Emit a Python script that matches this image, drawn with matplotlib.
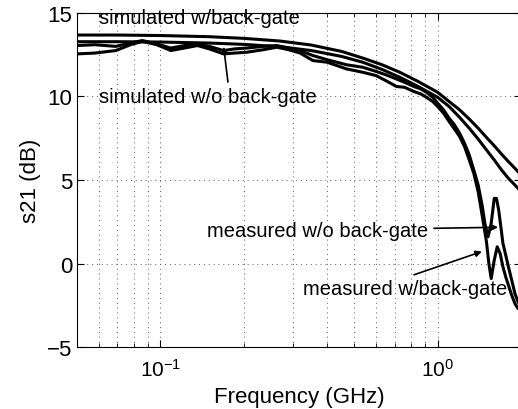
import matplotlib as mpl
mpl.use('Agg')
import matplotlib.pyplot as plt
import matplotlib.ticker as mtick

plt.rcParams['font.family'] = ['Liberation Sans', 'DejaVu Sans']
plt.rcParams['mathtext.fontset'] = 'custom'
plt.rcParams['mathtext.rm'] = 'Liberation Sans'

# simulated curves (GHz, dB)
f_sim_bg = [0.05, 0.07, 0.1, 0.15, 0.2, 0.27, 0.35, 0.45, 0.537, 0.63, 0.73, 0.85,
            1.0, 1.1, 1.2, 1.3, 1.4, 1.5, 1.6, 1.7, 1.8, 1.9, 2.0]
s21_sim_bg = [13.68, 13.68, 13.65, 13.58, 13.48, 13.32, 13.08, 12.7, 12.3, 11.9, 11.45, 10.9,
              10.25, 9.7, 9.2, 8.65, 8.1, 7.55, 7.05, 6.55, 6.1, 5.7, 5.3]

f_sim_nobg = [0.05, 0.07, 0.1, 0.15, 0.2, 0.27, 0.35, 0.45, 0.537, 0.63, 0.73, 0.85,
              1.0, 1.1, 1.2, 1.3, 1.4, 1.5, 1.6, 1.7, 1.8, 1.9, 2.0]
s21_sim_nobg = [13.28, 13.28, 13.26, 13.2, 13.12, 12.98, 12.75, 12.4, 12.05, 11.62, 11.15, 10.6,
                9.95, 9.4, 8.75, 8.1, 7.45, 6.8, 6.2, 5.6, 5.1, 4.7, 4.3]

# measured curves
f_meas_bg = [0.05, 0.058, 0.069, 0.078, 0.086, 0.097, 0.109, 0.122, 0.136, 0.15, 0.169, 0.185,
             0.205, 0.235, 0.263, 0.29, 0.319, 0.355, 0.40, 0.469, 0.537, 0.60, 0.65, 0.71,
             0.76, 0.82, 0.87, 0.911, 0.96, 1.0, 1.05, 1.1, 1.15, 1.2, 1.25, 1.3, 1.35,
             1.40, 1.45, 1.50, 1.53, 1.56, 1.60, 1.64, 1.68, 1.72, 1.76, 1.80, 1.85, 1.90,
             1.95, 2.0]
s21_meas_bg = [12.55, 12.6, 12.75, 13.1, 13.3, 13.1, 12.75, 12.9, 13.05, 12.85, 12.55, 12.6,
               12.65, 12.8, 12.95, 12.8, 12.6, 12.15, 12.05, 11.65, 11.45, 11.25, 10.95, 10.6,
               10.55, 10.3, 10.15, 9.95, 9.7, 9.4, 9.0, 8.5, 8.05, 7.6, 7.0, 6.2, 5.4,
               4.3, 2.8, 1.3, 0.0, -0.9, 0.2, 1.0, 0.6, -0.2, -0.8, -1.3, -1.9, -2.4,
               -2.7, -2.5]

f_meas_nobg = [0.05, 0.058, 0.069, 0.078, 0.086, 0.097, 0.109, 0.122, 0.136, 0.15, 0.169, 0.185,
               0.205, 0.235, 0.263, 0.29, 0.319, 0.355, 0.40, 0.469, 0.537, 0.60, 0.65, 0.71,
               0.76, 0.82, 0.87, 0.911, 0.96, 1.0, 1.05, 1.1, 1.15, 1.2, 1.25, 1.3, 1.35,
               1.40, 1.45, 1.48, 1.52, 1.56, 1.60, 1.63, 1.66, 1.69, 1.72, 1.76, 1.80, 1.85,
               1.90, 1.95, 2.0]
s21_meas_nobg = [13.05, 13.1, 13.0, 13.2, 13.35, 13.15, 12.9, 13.05, 13.15, 13.0, 12.75, 12.85,
                 12.9, 13.0, 13.05, 12.9, 12.75, 12.45, 12.2, 11.9, 11.75, 11.5, 11.3, 11.05,
                 10.85, 10.6, 10.45, 10.25, 9.95, 9.6, 9.2, 8.7, 8.3, 7.8, 7.2, 6.5, 5.6,
                 4.7, 3.4, 2.4, 1.6, 2.4, 3.9, 3.9, 3.2, 2.2, 1.2, 0.5, -0.2, -1.0,
                 -1.8, -2.3, -2.6]

fig = plt.figure(figsize=(5.18, 4.10), dpi=100)
ax = fig.add_axes([0.1486, 0.1512, 0.8574, 0.8147])

lw = 2.2
ax.plot(f_sim_bg, s21_sim_bg, color='k', lw=lw)
ax.plot(f_sim_nobg, s21_sim_nobg, color='k', lw=lw)
ax.plot(f_meas_bg, s21_meas_bg, color='k', lw=lw)
ax.plot(f_meas_nobg, s21_meas_nobg, color='k', lw=lw)

ax.set_xscale('log')
ax.set_xlim(0.05, 2)
ax.set_ylim(-5, 15)
ax.set_yticks([-5, 0, 5, 10, 15])
ax.xaxis.set_minor_formatter(mtick.NullFormatter())

gstyle = dict(linestyle=(0, (1, 4)), color='0.35', lw=0.7)
ax.grid(True, which='major', **gstyle)
ax.grid(True, which='minor', axis='x', **gstyle)
ax.tick_params(which='both', direction='in', top=True, right=True)
ax.tick_params(which='major', length=5)
ax.tick_params(which='minor', length=3)
ax.tick_params(axis='y', labelsize=16)
ax.tick_params(axis='x', labelsize=15, pad=8)

ax.set_xlabel('Frequency (GHz)', fontsize=16)
ax.set_ylabel('s21 (dB)', fontsize=16)

tsize = 14.5
ap = dict(arrowstyle='-|>', color='k', lw=1.2, mutation_scale=9)
ax.text(0.0598, 14.7, 'simulated w/back-gate', fontsize=tsize, va='center')
ax.text(0.0598, 10.0, 'simulated w/o back-gate', fontsize=tsize, va='center')
ax.annotate('', xy=(0.1686, 13.14), xytext=(0.1757, 10.7), arrowprops=ap)
ax.annotate('measured w/o back-gate', xy=(1.69, 2.17), xytext=(0.1476, 2.0),
            fontsize=tsize, va='center', arrowprops=ap)
ax.text(0.327, -1.5, 'measured w/back-gate', fontsize=tsize, va='center')
ax.annotate('', xy=(1.476, 0.77), xytext=(0.804, -0.73), arrowprops=ap)

fig.savefig('out.png')
